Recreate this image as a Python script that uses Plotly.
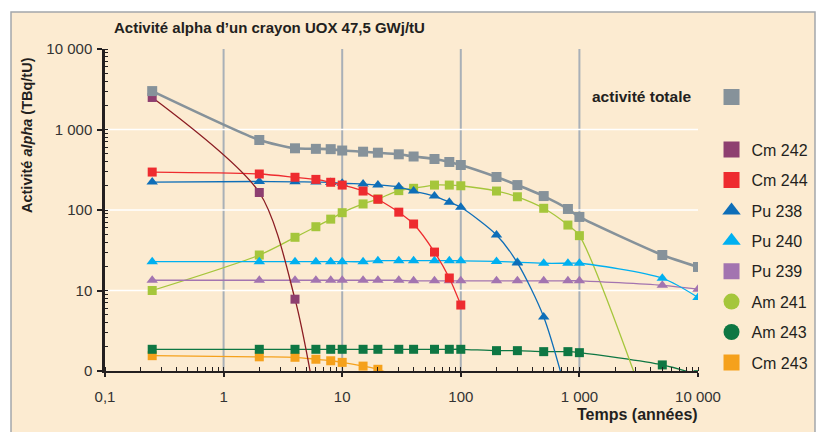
import plotly.graph_objects as go

# --- data (TBq/tU versus years after discharge) ---
t_total = [0.25, 2, 4, 6, 8, 10, 15, 20, 30, 40, 60, 80, 100, 200, 300, 500, 800, 1000, 5000, 10000]
v_total = [3000, 741, 584, 575, 570, 548, 530, 515, 492, 462, 430, 395, 362, 257, 204, 149, 103, 82, 27.6, 19.6]

t_cm242 = [0.25, 2, 4, 6]
v_cm242 = [2500, 165, 7.8, 0.4]

t_cm244 = [0.25, 2, 4, 6, 8, 10, 15, 20, 30, 40, 60, 80, 100]
v_cm244 = [296, 280, 255, 240, 221, 204, 172, 136, 94, 67, 30, 14.3, 6.6]

t_pu238 = [0.25, 2, 4, 6, 8, 10, 15, 20, 30, 40, 60, 80, 100, 200, 300, 500, 800]
v_pu238 = [222, 226, 224, 222, 220, 215, 210, 205, 194, 172, 149, 125, 108, 49, 22, 4.7, 0.45]

t_pu240 = [0.25, 2, 4, 6, 8, 10, 15, 20, 30, 40, 60, 80, 100, 200, 300, 500, 800, 1000, 5000, 10000]
v_pu240 = [22.8, 22.8, 22.8, 22.8, 22.8, 22.8, 22.8, 23.5, 23.5, 23.5, 23.5, 23.5, 23.4, 23, 22.4, 21.8, 21.8, 21.8, 14.2, 8.2]

t_pu239 = [0.25, 2, 4, 6, 8, 10, 15, 20, 30, 40, 60, 80, 100, 200, 300, 500, 800, 1000, 5000, 10000]
v_pu239 = [13.4, 13.4, 13.4, 13.4, 13.4, 13.4, 13.4, 13.4, 13.4, 13.2, 13.2, 13.2, 13.2, 13.2, 13.2, 13.2, 13.2, 13.2, 11.6, 10.4]

t_am241 = [0.25, 2, 4, 6, 8, 10, 15, 20, 30, 40, 60, 80, 100, 200, 300, 500, 800, 1000, 5000]
v_am241 = [10, 27.6, 45.8, 62, 77, 92.6, 119, 137, 174, 186, 204, 204, 200, 172, 146, 105, 65, 48, 0.1]

t_am243 = [0.25, 2, 4, 6, 8, 10, 15, 20, 30, 40, 60, 80, 100, 200, 300, 500, 800, 1000, 5000, 10000]
v_am243 = [1.86, 1.86, 1.86, 1.86, 1.86, 1.86, 1.86, 1.86, 1.86, 1.86, 1.86, 1.86, 1.86, 1.79, 1.79, 1.74, 1.74, 1.69, 1.19, 0.9]

t_cm243 = [0.25, 2, 4, 6, 8, 10, 15, 20, 30]
v_cm243 = [1.55, 1.5, 1.48, 1.4, 1.34, 1.28, 1.15, 1.05, 0.83]

x_tickvals = [0.1, 1, 10, 100, 1000, 10000]
x_ticktext = ["0,1", "1", "10", "100", "1 000", "10 000"]
y_tickvals = [1, 10, 100, 1000, 10000]
y_ticktext = ["0", "10", "100", "1 000", "10 000"]
x_gridvals = [1, 10, 100, 1000]
y_gridvals = [10, 100, 1000]

FONT = "Liberation Sans, Arial, sans-serif"
INK = "#231F20"

# name, x, y, line colour, marker colour, plot symbol, legend symbol, line width, marker size
series = [
    ("Cm 243", t_cm243, v_cm243, "#F5A11C", "#F5A11C", "square", "square", 1.3, 9),
    ("Am 243", t_am243, v_am243, "#0E7743", "#0E7743", "square", "circle", 1.3, 9),
    ("Am 241", t_am241, v_am241, "#A5C63B", "#A5C63B", "square", "circle", 1.3, 9),
    ("Pu 239", t_pu239, v_pu239, "#A374B0", "#A374B0", "triangle-up", "square", 1.3, 10),
    ("Pu 240", t_pu240, v_pu240, "#00B0F0", "#00B0F0", "triangle-up", "triangle-up", 1.3, 10),
    ("Pu 238", t_pu238, v_pu238, "#0E6EB8", "#0E6EB8", "triangle-up", "triangle-up", 1.3, 10),
    ("Cm 244", t_cm244, v_cm244, "#EE2B2F", "#EE2B2F", "square", "square", 1.3, 9),
    ("Cm 242", t_cm242, v_cm242, "#8B1C22", "#8E3F70", "square", "square", 1.3, 9),
]

fig = go.Figure()

for name, xs, ys, lc, mc, sym, _, lw, ms in series:
    fig.add_trace(go.Scatter(
        x=xs, y=ys, mode="lines+markers", name=name, showlegend=False,
        line=dict(color=lc, width=lw, shape="spline", smoothing=0.8),
        marker=dict(color=mc, symbol=sym, size=ms, line=dict(width=0)),
        hoverinfo="skip",
    ))

fig.add_trace(go.Scatter(
    x=t_total, y=v_total, mode="lines+markers", name="activité totale", showlegend=False,
    line=dict(color="#86929A", width=2.6, shape="spline", smoothing=0.6),
    marker=dict(color="#86929A", symbol="square", size=10, line=dict(width=0)),
    hoverinfo="skip",
))

# legend entries
fig.add_trace(go.Scatter(
    x=[None], y=[None], mode="markers", name=" ", legend="legend",
    marker=dict(color="#86929A", symbol="square", size=16),
))
for i, (name, xs, ys, lc, mc, sym, lsym, lw, ms) in enumerate(reversed(series)):
    fig.add_trace(go.Scatter(
        x=[None], y=[None], mode="markers", name=name, legend="legend2",
        legendgroup="g%d" % i,
        marker=dict(color=mc, symbol=lsym, size=16),
    ))

shapes = [
    # cream panel
    dict(type="rect", xref="paper", yref="paper", x0=-0.1585, x1=1.1973, y0=-0.25, y1=1.1149,
         fillcolor="#FCEBD1", line=dict(color="#A3A7AB", width=1.5), layer="below"),
]
for gx in x_gridvals:
    shapes.append(dict(type="line", xref="x", yref="paper", x0=gx, x1=gx, y0=0, y1=1,
                       line=dict(color="#A9B0B7", width=2), layer="below"))
for gy in y_gridvals:
    shapes.append(dict(type="line", xref="paper", yref="y", x0=0, x1=1, y0=gy, y1=gy,
                       line=dict(color="#FFFFFF", width=1.5), layer="below"))

fig.update_layout(
    width=818, height=432,
    margin=dict(l=105, r=120, t=49, b=61, autoexpand=False),
    paper_bgcolor="#FFFFFF",
    plot_bgcolor="#D5DDE2",
    font=dict(family=FONT, color=INK, size=13),
    shapes=shapes,
    legend=dict(x=1.0228, xanchor="left", y=0.851, yanchor="middle",
                bgcolor="rgba(0,0,0,0)", font=dict(size=16, family=FONT, color=INK),
                itemclick=False, itemdoubleclick=False),
    legend2=dict(x=1.0228, xanchor="left", y=0.740, yanchor="top",
                 bgcolor="rgba(0,0,0,0)", font=dict(size=16, family=FONT, color=INK),
                 tracegroupgap=6.6, traceorder="grouped",
                 itemclick=False, itemdoubleclick=False),
    annotations=[
        dict(text="<b>Activité alpha d’un crayon UOX 47,5 GWj/tU</b>", xref="paper", yref="paper",
             x=0.0118, y=1.068, xanchor="left", yanchor="middle", showarrow=False,
             font=dict(size=15, family=FONT, color=INK)),
        dict(text="<b>Activité <i>alpha</i> (TBq/tU)</b>", xref="paper", yref="paper",
             x=-0.1315, y=0.733, xanchor="center", yanchor="middle", textangle=-90, showarrow=False,
             font=dict(size=14.5, family=FONT, color=INK)),
        dict(text="<b>Temps (années)</b>", xref="paper", yref="paper",
             x=1.0034, y=-0.1366, xanchor="right", yanchor="middle", showarrow=False,
             font=dict(size=16, family=FONT, color=INK)),
        dict(text="<b>activité totale</b>", xref="paper", yref="paper",
             x=0.9916, y=0.851, xanchor="right", yanchor="middle", showarrow=False,
             font=dict(size=15.5, family=FONT, color=INK)),
    ],
)

fig.update_xaxes(
    type="log", range=[-1, 4], showgrid=False, zeroline=False, automargin=False,
    tickmode="array", tickvals=x_tickvals, ticktext=x_ticktext,
    ticks="outside", ticklen=4, tickwidth=1.5, tickcolor=INK, ticklabelstandoff=7,
    showline=True, linecolor=INK, linewidth=2,
    tickfont=dict(size=15, family=FONT, color="#333333"),
    minor=dict(ticks="inside", ticklen=4, tickwidth=1.2, tickcolor=INK, dtick="D1", showgrid=False),
)
fig.update_yaxes(
    type="log", range=[0, 4], showgrid=False, zeroline=False, automargin=False,
    tickmode="array", tickvals=y_tickvals, ticktext=y_ticktext,
    ticks="outside", ticklen=5, tickwidth=1.5, tickcolor=INK, ticklabelstandoff=2,
    showline=True, linecolor=INK, linewidth=2.5,
    tickfont=dict(size=15, family=FONT, color="#333333"),
    minor=dict(ticks="inside", ticklen=3, tickwidth=1.2, tickcolor=INK, dtick="D1", showgrid=False),
)

fig.write_html("out.html")
